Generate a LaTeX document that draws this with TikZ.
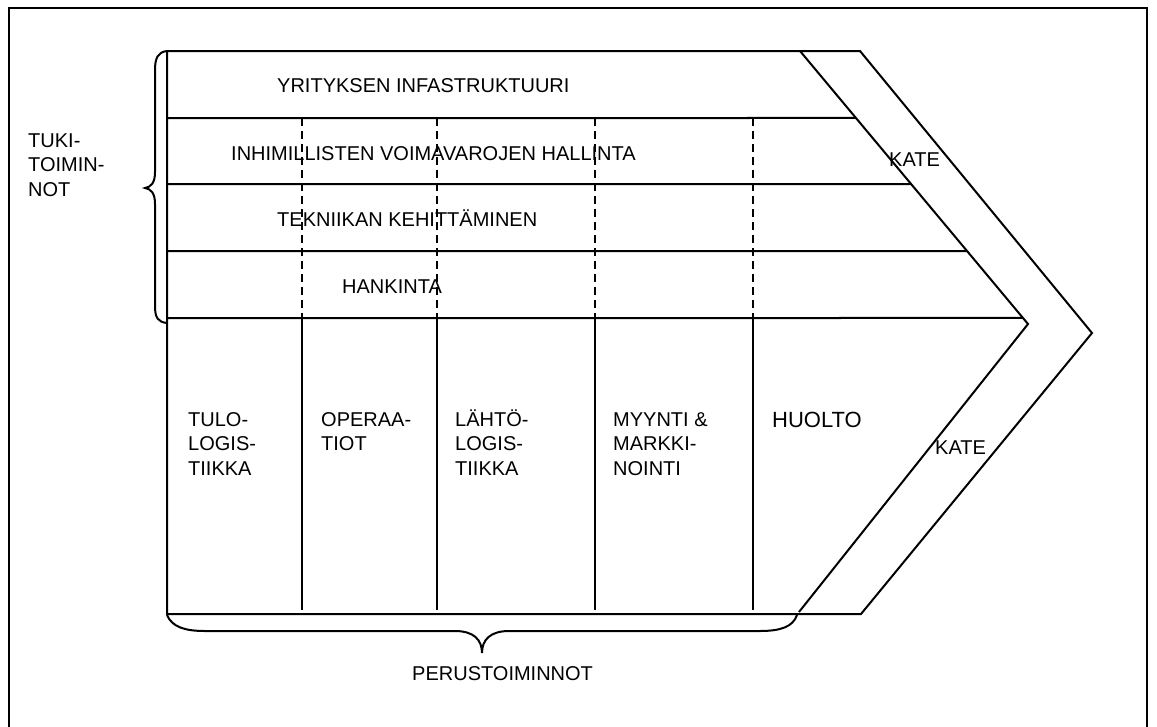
\documentclass[tikz,border=0pt]{standalone}
\usepackage{fontspec}
\setmainfont{Liberation Sans}
\usetikzlibrary{calc}
\newcommand\tst{\rule{0pt}{18pt}}
\begin{document}
\begin{tikzpicture}[x=1pt,y=-1pt,
  ln/.style={line width=2pt, line join=miter},
  dsh/.style={line width=2pt, dash pattern=on 8pt off 5pt},
  lbl/.style={inner sep=0pt, font=\fontsize{20}{24.5}\selectfont},
  col/.style={lbl, anchor=north west, align=left}]
\useasboundingbox (0,0) rectangle (1157,726);
% outer frame (bottom edge falls outside the picture)
\draw[line width=2pt] (9,740) -- (9,8) -- (1147,8) -- (1147,740);
% main chevron
\coordinate (TL) at (167,51);
\coordinate (ITR) at (800,51);
\coordinate (OTR) at (860,51);
\coordinate (IP) at (1028,324);
\coordinate (OP) at (1092,333);
\coordinate (IBR) at (799,612);
\coordinate (OBR) at (861,614);
\coordinate (BL) at (167,614);
\draw[ln] (BL) -- (TL) -- (OTR) -- (OP) -- (OBR) -- cycle;
\draw[ln] (ITR) -- (IP) -- (IBR);
% support rows
\coordinate (r1) at ($(ITR)!0.2454!(IP)$);
\coordinate (r2) at ($(ITR)!0.4872!(IP)$);
\coordinate (r3) at ($(ITR)!0.7326!(IP)$);
\coordinate (r4) at ($(ITR)!0.9780!(IP)$);
\coordinate (l1) at (167,118);
\coordinate (l2) at (167,184);
\coordinate (l3) at (167,251);
\coordinate (l4) at (167,318);
\draw[ln] (l1) -- (r1);
\draw[ln] (l2) -- (r2);
\draw[ln] (l3) -- (r3);
\draw[ln] (l4) -- (r4);
% columns
\foreach \x in {302,437,595,753} {
  \draw[dsh] (\x,118) -- (\x,318);
  \draw[ln] (\x,318) -- (\x,610);
}
% left brace
\draw[ln] (167,51) .. controls (158,52) and (155,58) .. (155,70) -- (155,172)
  .. controls (155,183) and (151,187) .. (145,188)
  .. controls (151,189) and (155,193) .. (155,204) -- (155,306)
  .. controls (155,318) and (158,322) .. (167,323);
% bottom brace
\draw[ln] (167,615) .. controls (172,627) and (185,631) .. (205,631) -- (455,631)
  .. controls (474,631) and (482,640) .. (482,653)
  .. controls (482,640) and (490,631) .. (509,631) -- (760,631)
  .. controls (780,631) and (793,627) .. (797,615);
% texts
\node[lbl, anchor=base west] (yi) at (277,92) {YRITYKSEN INFASTRUKTUURI};
\node[lbl, anchor=base west] (ivh) at (231,160) {INHIMILLISTEN VOIMAVAROJEN HALLINTA};
\node[lbl, anchor=base west] (tk) at (277,226) {TEKNIIKAN KEHITTÄMINEN};
\node[lbl, anchor=base west] (hk) at (342,293) {HANKINTA};
\node[lbl, anchor=base west] (k1) at (889,166) {KATE};
\node[lbl, anchor=base west] (k2) at (935,454) {KATE};
\node[col] (tuki) at (28,129) {\tst TUKI-\\TOIMIN-\\NOT};
\node[col] (tulo) at (188,408) {\tst TULO-\\LOGIS-\\TIIKKA};
\node[col] (oper) at (321,408) {\tst OPERAA-\\TIOT};
\node[col] (lahto) at (455,408) {\tst LÄHTÖ-\\LOGIS-\\TIIKKA};
\node[col] (myynti) at (613,408) {\tst MYYNTI \&\\MARKKI-\\NOINTI};
\node[lbl, anchor=base west, font=\fontsize{22}{26}\selectfont] (huolto) at (772,427) {HUOLTO};
\node[lbl, anchor=base west] (perus) at (412,680) {PERUSTOIMINNOT};
\end{tikzpicture}
\end{document}
